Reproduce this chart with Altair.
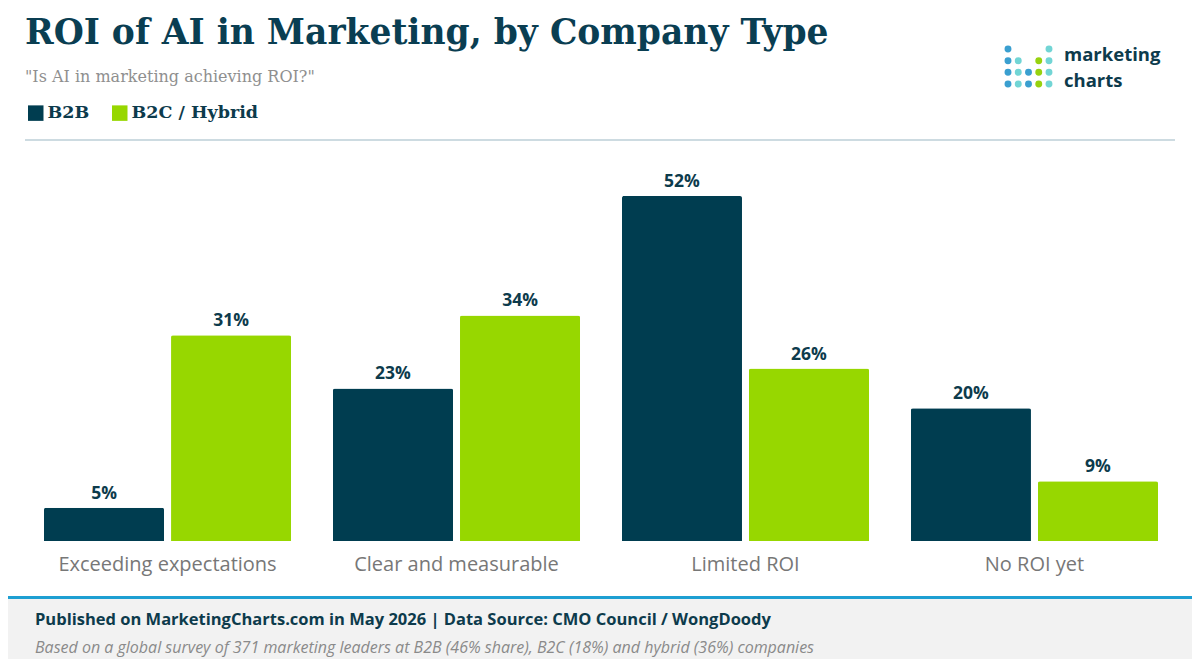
import altair as alt
import pandas as pd

# ---- data ----
categories = ["Exceeding expectations", "Clear and measurable", "Limited ROI", "No ROI yet"]
series = ["B2B", "B2C / Hybrid"]
b2b = [5, 23, 52, 20]
b2c_hybrid = [31, 34, 26, 9]
series_colors = ["#003d50", "#97d700"]

TITLE = "ROI of AI in Marketing, by Company Type"
SUBTITLE = '"Is AI in marketing achieving ROI?"'
FOOT1 = "Published on MarketingCharts.com in May 2026 | Data Source: CMO Council / WongDoody"
FOOT2 = ("Based on a global survey of 371 marketing leaders at B2B (46% share), "
         "B2C (18%) and hybrid (36%) companies")
LOGO_TEXT = "marketing\ncharts"

# logo dots (column, row, colour)
logo_cols = [1, 5, 1, 2, 4, 5, 1, 2, 3, 4, 5, 1, 2, 3, 4, 5]
logo_rows = [1, 1, 2, 2, 2, 2, 3, 3, 3, 3, 3, 4, 4, 4, 4, 4]
logo_cols_c = ["#3a9fd0", "#72d5d5",
               "#3a9fd0", "#72d5d5", "#97d20f", "#72d5d5",
               "#3a9fd0", "#72d5d5", "#3a9fd0", "#97d20f", "#72d5d5",
               "#3a9fd0", "#72d5d5", "#3a9fd0", "#97d20f", "#72d5d5"]

rows = []
for c, a, b in zip(categories, b2b, b2c_hybrid):
    rows.append({"cat": c, "series": series[0], "value": a, "label": f"{a}%"})
    rows.append({"cat": c, "series": series[1], "value": b, "label": f"{b}%"})
df = pd.DataFrame(rows)
df_cat = pd.DataFrame({"cat": categories})
df_logo = pd.DataFrame({"col": logo_cols, "row": logo_rows, "c": logo_cols_c})
one = pd.DataFrame({"a": [0]})

W, H = 1184, 651
DARK = "#0d3b4c"

xscale = alt.Scale(type="band", domain=categories, range=[36, 1150], paddingInner=0.145, paddingOuter=0)
xoff = alt.Scale(type="band", domain=series, paddingInner=0.055, paddingOuter=0)
yscale = alt.Scale(domain=[0, 52], range=[533, 188], nice=False, zero=True)

X = alt.X("cat:N", scale=xscale, axis=None, sort=categories)
XO = alt.XOffset("series:N", scale=xoff, sort=series)
Y = alt.Y("value:Q", scale=yscale, axis=None)

bars = alt.Chart(df).mark_bar(cornerRadiusTopLeft=2, cornerRadiusTopRight=2).encode(
    x=X, xOffset=XO, y=Y, y2=alt.value(536),
    color=alt.Color("series:N", scale=alt.Scale(domain=series, range=series_colors),
                    legend=alt.Legend(orient="none", legendX=19, legendY=96, direction="horizontal",
                                      title=None, symbolType="square", symbolSize=240,
                                      symbolStrokeWidth=0, symbolOpacity=1,
                                      labelFont="DejaVu Serif", labelFontWeight="bold",
                                      labelFontSize=17.5, labelColor=DARK, labelOffset=3,
                                      columnPadding=21, padding=0)),
)

values = alt.Chart(df).mark_text(font="Open Sans", fontSize=17.5, fontWeight="bold", color=DARK,
                                 baseline="alphabetic", dy=-9).encode(
    x=X, xOffset=XO, y=Y, text="label:N")

cat_labels = alt.Chart(df_cat).mark_text(font="Open Sans", fontSize=20, color="#777777",
                                         baseline="alphabetic").encode(
    x=X, y=alt.value(563), text="cat:N")

def txt(s, x, y, **kw):
    return alt.Chart(pd.DataFrame({"t": [s]})).mark_text(align="left", baseline="alphabetic", **kw).encode(
        x=alt.value(x), y=alt.value(y), text="t:N")

title = txt(TITLE, 17, 36, font="DejaVu Serif", fontSize=34.5, fontWeight="bold", color="#0a3e52")
subtitle = txt(SUBTITLE, 17, 74, font="DejaVu Serif", fontSize=16, color="#8f8f8f")

sep = alt.Chart(one).mark_rule(color="#cddbe1", strokeWidth=2).encode(
    x=alt.value(17), x2=alt.value(1167), y=alt.value(132))

footer_bg = alt.Chart(one).mark_rect(color="#f2f2f2").encode(
    x=alt.value(0), x2=alt.value(W), y=alt.value(590), y2=alt.value(H))
footer_line = alt.Chart(one).mark_rule(color="#1e9fd2", strokeWidth=3).encode(
    x=alt.value(0), x2=alt.value(W), y=alt.value(589.5))
foot1 = txt(FOOT1, 27, 617, font="Open Sans", fontSize=16.5, fontWeight="bold", color=DARK)
foot2 = txt(FOOT2, 27, 645, font="Open Sans", fontSize=16, fontStyle="italic", color="#8a8a8a")

logo_dots = alt.Chart(df_logo).mark_circle(size=48, opacity=1).encode(
    x=alt.X("col:Q", scale=alt.Scale(domain=[1, 5], range=[1000, 1041]), axis=None),
    y=alt.Y("row:Q", scale=alt.Scale(domain=[1, 4], range=[41, 76]), axis=None),
    color=alt.Color("c:N", scale=None))
logo_txt = txt(LOGO_TEXT, 1056, 53, font="Open Sans", fontSize=18.5, fontWeight="bold", color=DARK,
               lineBreak="\n", lineHeight=25.5)

chart = alt.layer(
    footer_bg, footer_line, sep, bars, values, cat_labels,
    title, subtitle, foot1, foot2, logo_dots, logo_txt,
).resolve_scale(x="independent", y="independent", color="independent").properties(
    width=W, height=H, padding=0, autosize=alt.AutoSizeParams(type="none"),
    background="white",
).configure_view(stroke=None)

chart.save("out.html", embed_options={"renderer": "svg", "actions": False})
